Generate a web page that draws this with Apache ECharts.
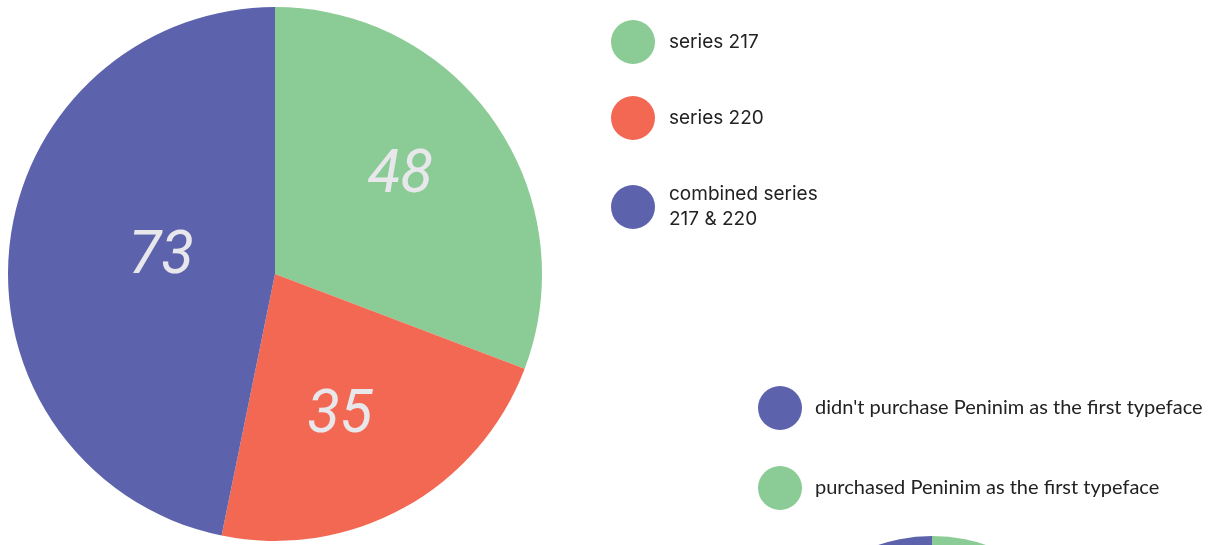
<!DOCTYPE html>
<html>
<head>
<meta charset="utf-8">
<script src="https://cdn.jsdelivr.net/npm/echarts@6/dist/echarts.min.js"></script>
<style>
  html, body { margin: 0; padding: 0; background: #ffffff; }
  #chart { width: 1220px; height: 545px; }
</style>
</head>
<body>
<div id="chart"></div>
<script>
// Main pie: respondents by series
const seriesNames = ['series 217', 'series 220', 'combined series\n217 & 220'];
const seriesValues = [48, 35, 73];
const seriesColors = ['#8BCB95', '#F26852', '#5C62AC'];

// Second pie: first-typeface purchase
const purchaseNames = ["didn't purchase Peninim as the first typeface", 'purchased Peninim as the first typeface'];
const purchaseValues = [112, 44];
const purchaseColors = ['#5C62AC', '#8BCB95'];

// Nudges for the in-slice value labels
const labelOffsets = [[13, -19], [-1, 23], [22, -2]];

const chart = echarts.init(document.getElementById('chart'), null, { renderer: 'canvas' });

const legendText1 = {
  color: '#222222',
  fontFamily: 'Inter, Roboto, sans-serif',
  fontSize: 19,
  lineHeight: 25,
  padding: [0, 0, 0, 9]
};

chart.setOption({
  backgroundColor: '#ffffff',
  animation: false,
  legend: [
    {
      data: seriesNames.map((name, i) => i === 2
        ? { name, textStyle: Object.assign({}, legendText1, { padding: [20, 0, 0, 9] }) }
        : { name }),
      orient: 'vertical',
      left: 611,
      top: 20,
      padding: 0,
      icon: 'circle',
      itemWidth: 44,
      itemHeight: 44,
      itemGap: 32,
      selectedMode: false,
      textStyle: legendText1
    },
    {
      data: purchaseNames,
      orient: 'vertical',
      left: 758,
      top: 386,
      padding: 0,
      icon: 'circle',
      itemWidth: 44,
      itemHeight: 44,
      itemGap: 36,
      selectedMode: false,
      textStyle: {
        color: '#222222',
        fontFamily: 'Lato, "Open Sans", sans-serif',
        fontSize: 20,
        padding: [0, 0, 0, 8]
      }
    }
  ],
  series: [
    {
      type: 'pie',
      center: [275, 274],
      radius: [0, 267],
      startAngle: 90,
      clockwise: true,
      silent: true,
      label: {
        show: true,
        position: 'inner',
        formatter: '{c}',
        color: '#E8E8EC',
        fontFamily: 'Roboto, sans-serif',
        fontStyle: 'italic',
        fontWeight: 'normal',
        fontSize: 60
      },
      labelLine: { show: false },
      itemStyle: { borderWidth: 0 },
      data: seriesNames.map((name, i) => ({
        name,
        value: seriesValues[i],
        itemStyle: { color: seriesColors[i] },
        label: { offset: labelOffsets[i] }
      }))
    },
    {
      type: 'pie',
      center: [932, 702],
      radius: [0, 166],
      startAngle: 90,
      clockwise: false,
      silent: true,
      label: { show: false },
      labelLine: { show: false },
      itemStyle: { borderWidth: 0 },
      data: purchaseNames.map((name, i) => ({
        name,
        value: purchaseValues[i],
        itemStyle: { color: purchaseColors[i] }
      }))
    }
  ]
});
</script>
</body>
</html>
